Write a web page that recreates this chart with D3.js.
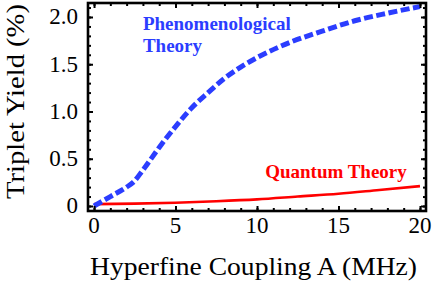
<!DOCTYPE html>
<html>
<head>
<meta charset="utf-8">
<script src="https://cdn.jsdelivr.net/npm/d3@7"></script>
<style>
  html, body { margin: 0; padding: 0; background: #fff; }
  svg { display: block; }
</style>
</head>
<body>
<div id="chart"></div>
<script>
// ── Data ────────────────────────────────────────────────────
const phenomX = [0, 1, 2, 2.4, 3, 4, 5, 6, 7, 8, 9, 10, 12, 14, 16, 18, 20];
const phenomY = [0, 0.1, 0.2, 0.25, 0.38, 0.62, 0.84, 1.04, 1.2, 1.35, 1.47, 1.57, 1.73, 1.85, 1.96, 2.04, 2.11];
const quantumX = [0, 2.5, 5, 7.5, 10, 12.5, 15, 17.5, 20];
const quantumY = [0.02, 0.025, 0.035, 0.05, 0.07, 0.1, 0.13, 0.17, 0.21];
const xTicks = [0, 5, 10, 15, 20];
const yTicks = [0, 0.5, 1.0, 1.5, 2.0];
const xTitle = 'Hyperfine Coupling A (MHz)';
const yTitle = 'Triplet Yield (%)';

const SERIF = '"Liberation Serif", "Times New Roman", Times, serif';
const W = 436, H = 285;
const margin = { top: 3, right: 10, bottom: 74, left: 88 };
const iw = W - margin.left - margin.right;
const ih = H - margin.top - margin.bottom;

const x = d3.scaleLinear().domain([-0.37, 20.37]).range([0, iw]);
const y = d3.scaleLinear().domain([-0.053, 2.148]).range([ih, 0]);

const svg = d3.select('#chart').append('svg')
  .attr('width', W).attr('height', H)
  .attr('font-family', SERIF);

const g = svg.append('g')
  .attr('transform', `translate(${margin.left},${margin.top})`);

// ── Curves ─────────────────────────────────────────────────
const line = d3.line().x(d => x(d[0])).y(d => y(d[1])).curve(d3.curveMonotoneX);

g.append('path')
  .datum(quantumX.map((v, i) => [v, quantumY[i]]))
  .attr('d', line)
  .attr('fill', 'none')
  .attr('stroke', '#ff0000')
  .attr('stroke-width', 2.6);

g.append('path')
  .datum(phenomX.map((v, i) => [v, phenomY[i]]))
  .attr('d', line)
  .attr('fill', 'none')
  .attr('stroke', '#2b3dff')
  .attr('stroke-width', 5)
  .attr('stroke-dasharray', '9,3.5');

// ── Ticks (inward, mirrored on all four sides) ──────────────
const minorX = d3.range(0, 21, 1);
const minorY = d3.range(0, 2.11, 0.1);

function ticks(axisFn, scale, values, size, transform) {
  g.append('g')
    .attr('transform', transform)
    .call(axisFn(scale).tickValues(values).tickSize(size).tickFormat(''))
    .call(s => s.select('.domain').remove())
    .call(s => s.selectAll('line').attr('stroke', '#000').attr('stroke-width', 2));
}
ticks(d3.axisBottom, x, minorX, -3, `translate(0,${ih})`);
ticks(d3.axisBottom, x, xTicks, -5, `translate(0,${ih})`);
ticks(d3.axisTop, x, minorX, -3, 'translate(0,0)');
ticks(d3.axisTop, x, xTicks, -5, 'translate(0,0)');
ticks(d3.axisLeft, y, minorY, -3, 'translate(0,0)');
ticks(d3.axisLeft, y, yTicks, -5, 'translate(0,0)');
ticks(d3.axisRight, y, minorY, -3, `translate(${iw},0)`);
ticks(d3.axisRight, y, yTicks, -5, `translate(${iw},0)`);

// Frame
g.append('rect')
  .attr('width', iw).attr('height', ih)
  .attr('fill', 'none').attr('stroke', '#000').attr('stroke-width', 2.6);

// ── Tick labels ────────────────────────────────────────────
g.selectAll('.xlab').data(xTicks).join('text')
  .attr('class', 'xlab')
  .attr('x', d => x(d))
  .attr('y', ih + 22)
  .attr('text-anchor', 'middle')
  .attr('font-family', SERIF)
  .attr('font-size', 23)
  .text(d => d);

g.selectAll('.ylab').data(yTicks).join('text')
  .attr('class', 'ylab')
  .attr('x', -10)
  .attr('y', d => y(d) + 7.5)
  .attr('text-anchor', 'end')
  .attr('font-family', SERIF)
  .attr('font-size', 23)
  .text(d => d === 0 ? '0' : d3.format('.1f')(d));

// ── Axis titles ────────────────────────────────────────────
svg.append('text')
  .attr('x', 90).attr('y', 275)
  .attr('font-family', SERIF)
  .attr('font-size', 25)
  .attr('textLength', 327)
  .attr('lengthAdjust', 'spacingAndGlyphs')
  .text(xTitle);

svg.append('text')
  .attr('transform', 'translate(24,199) rotate(-90)')
  .attr('font-family', SERIF)
  .attr('font-size', 26)
  .attr('textLength', 195)
  .attr('lengthAdjust', 'spacingAndGlyphs')
  .text(yTitle);

// ── Curve annotations ──────────────────────────────────────
const note = (tx, ty, txt, col) => g.append('text')
  .attr('x', x(tx)).attr('y', y(ty))
  .attr('font-family', SERIF)
  .attr('font-size', 19)
  .attr('font-weight', 'bold')
  .attr('fill', col)
  .text(txt);
note(3.0, 1.86, 'Phenomenological', '#2b3dff');
note(3.0, 1.63, 'Theory', '#2b3dff');
note(10.5, 0.30, 'Quantum Theory', '#ff0000');
</script>
</body>
</html>
